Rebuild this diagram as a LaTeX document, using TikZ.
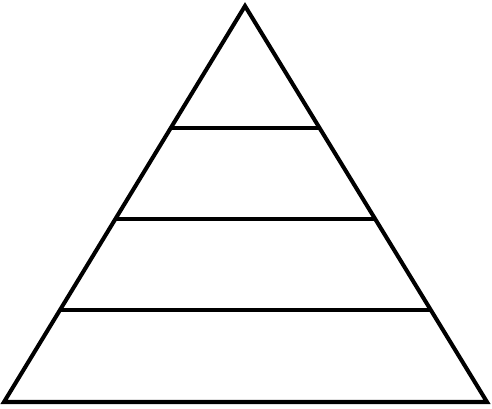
\documentclass[tikz,border=0pt]{standalone}
\usepackage{tikz}
\usetikzlibrary{calc}

\begin{document}
\begin{tikzpicture}[x=0.02cm, y=-0.02cm]
        \useasboundingbox (0, 0) rectangle (492, 408);
        \coordinate (apex) at (245, 6);
        \coordinate (left) at (4, 402);
        \coordinate (right) at (487, 402);
        \draw[line width=2.3pt, line join=miter] (left) -- (right) -- (apex) -- cycle;
        \foreach \t in {.6919, .4621, .2323}
          \draw[line width=2.3pt] ($(left)!\t!(apex)$) -- ($(right)!\t!(apex)$);
      \end{tikzpicture}
\end{document}
